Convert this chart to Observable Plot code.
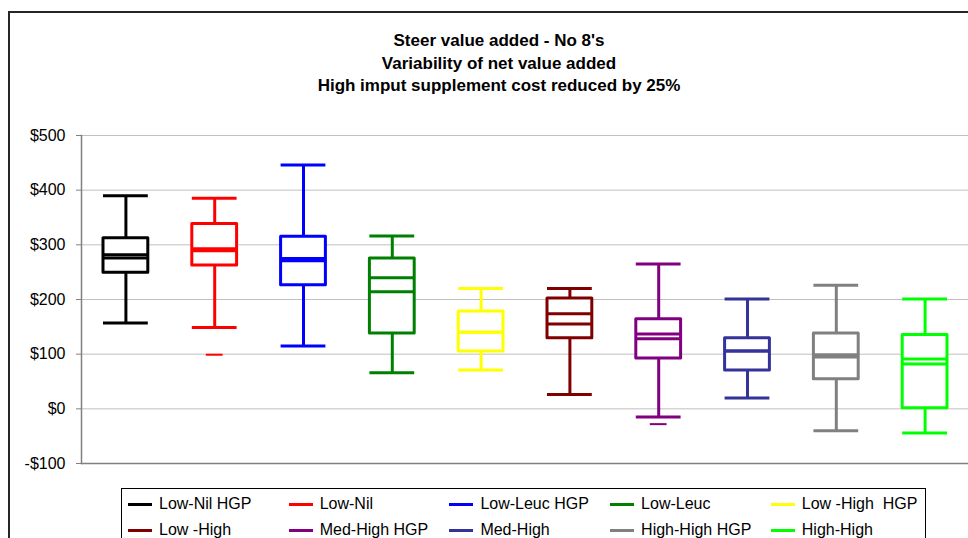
<!DOCTYPE html>
<html>
<head>
<meta charset="utf-8">
<script src="https://cdn.jsdelivr.net/npm/d3@7"></script>
<script src="https://cdn.jsdelivr.net/npm/@observablehq/plot@0.6"></script>
<style>
  html, body { margin: 0; padding: 0; background: #fff; }
  body { width: 968px; height: 538px; overflow: hidden; position: relative; font-family: "Liberation Sans", Arial, sans-serif; }
  #frame { position: absolute; left: 8px; top: 11px; width: 1100px; height: 1000px; border: 2px solid #262626; box-sizing: border-box; }
  #title { position: absolute; left: 8px; width: 982px; top: 30px; text-align: center; font-weight: bold; font-size: 17px; line-height: 22.7px; color: #000; }
  #chart { position: absolute; left: 0; top: 100px; width: 1000px; }
  #chart svg { max-width: none !important; }
  #legend { position: absolute; left: 121px; top: 488px; width: 805px; height: 80px; border: 1px solid #000; box-sizing: border-box; background: #fff; }
  .item { position: absolute; font-size: 16px; white-space: pre; line-height: 18px; color: #000; }
  .sw { position: absolute; left: 0; top: 7.5px; width: 24px; height: 3px; }
  .lab { position: absolute; left: 31px; top: 0; }
</style>
</head>
<body>
<div id="frame"></div>
<div id="title">Steer value added - No 8's<br>Variability of net value added<br>High imput supplement cost reduced by 25%</div>
<div id="chart"></div>
<div id="legend"></div>
<script>
const categories = ["Low-Nil HGP", "Low-Nil", "Low-Leuc HGP", "Low-Leuc", "Low -High  HGP",
                    "Low -High", "Med-High HGP", "Med-High", "High-High HGP", "High-High"];
const colors = ["#000000", "#ff0000", "#0000ff", "#008000", "#ffff00",
                "#800000", "#800080", "#333399", "#808080", "#00ff00"];
const whiskerHigh = [390, 385, 446, 316, 220, 220, 265, 201, 226, 201];
const q3 =          [312, 338, 315, 275, 178, 202, 164, 129, 138, 135];
const lineUpper =   [282, 293, 275, 240, 140, 174, 137, 106, 99, 91];
const lineLower =   [276, 289, 271, 214, 140, 155, 128, 106, 95, 82];
const q1 =          [249, 262, 226, 138, 105, 129, 92, 70, 54, 1];
const whiskerLow =  [157, 149, 115, 66, 71, 26, -15, 20, -40, -44];
const outlierCats = ["Low-Nil", "Med-High HGP"];
const outlierVals = [99, -28];
const yTicks = [-100, 0, 100, 200, 300, 400, 500];

const data = categories.map((c, i) => ({
  cat: c, color: colors[i], hi: whiskerHigh[i], q3: q3[i], m1: lineUpper[i],
  m2: lineLower[i], q1: q1[i], lo: whiskerLow[i]
}));
const outliers = outlierCats.map((c, i) => ({cat: c, v: outlierVals[i], color: colors[categories.indexOf(c)]}));
const fmt = v => (v < 0 ? "-$" + Math.abs(v) : "$" + v);

const inset = 22;
const sw = 3;
const plot = Plot.plot({
  width: 1000,
  height: 380,
  marginLeft: 81,
  marginRight: 31,
  marginTop: 35,
  marginBottom: 17,
  style: {fontFamily: "Liberation Sans, Arial, sans-serif", fontSize: "16px", background: "transparent", overflow: "visible", maxWidth: "none"},
  x: {type: "band", domain: categories, padding: 0, round: false, axis: null},
  y: {domain: [-100, 500]},
  color: {type: "identity"},
  marks: [
    Plot.ruleY(yTicks.filter(t => t > -100), {stroke: "#c0c0c0", strokeWidth: 1}),
    Plot.ruleY([-100], {stroke: "#808080", strokeWidth: 1.5}),
    Plot.frame({anchor: "left", stroke: "#808080", strokeWidth: 1.5}),
    Plot.axisY({ticks: yTicks, tickFormat: fmt, tickSize: 5, tickPadding: 11, stroke: "#808080", fill: "#000", fontSize: 16}),
    Plot.ruleX(data, {x: "cat", y1: "q3", y2: "hi", stroke: "color", strokeWidth: sw}),
    Plot.ruleX(data, {x: "cat", y1: "lo", y2: "q1", stroke: "color", strokeWidth: sw}),
    Plot.tickY(data, {x: "cat", y: "hi", stroke: "color", strokeWidth: sw, insetLeft: inset, insetRight: inset}),
    Plot.tickY(data, {x: "cat", y: "lo", stroke: "color", strokeWidth: sw, insetLeft: inset, insetRight: inset}),
    Plot.barY(data, {x: "cat", y1: "q1", y2: "q3", fill: "white", stroke: "color", strokeWidth: sw, insetLeft: inset, insetRight: inset, strokeLinejoin: "round"}),
    Plot.tickY(data, {x: "cat", y: "m1", stroke: "color", strokeWidth: sw, insetLeft: inset, insetRight: inset}),
    Plot.tickY(data, {x: "cat", y: "m2", stroke: "color", strokeWidth: sw, insetLeft: inset, insetRight: inset}),
    Plot.tickY(outliers, {x: "cat", y: "v", stroke: "color", strokeWidth: 2, insetLeft: 36, insetRight: 36})
  ]
});
document.getElementById("chart").appendChild(plot);

const legend = document.getElementById("legend");
categories.forEach((c, i) => {
  const row = Math.floor(i / 5), col = i % 5;
  const item = document.createElement("div");
  item.className = "item";
  item.style.left = (6 + col * 160.7) + "px";
  item.style.top = (6 + row * 26) + "px";
  const s = document.createElement("span");
  s.className = "sw";
  s.style.background = colors[i];
  const t = document.createElement("span");
  t.className = "lab";
  t.textContent = c;
  item.appendChild(s);
  item.appendChild(t);
  legend.appendChild(item);
});
</script>
</body>
</html>
